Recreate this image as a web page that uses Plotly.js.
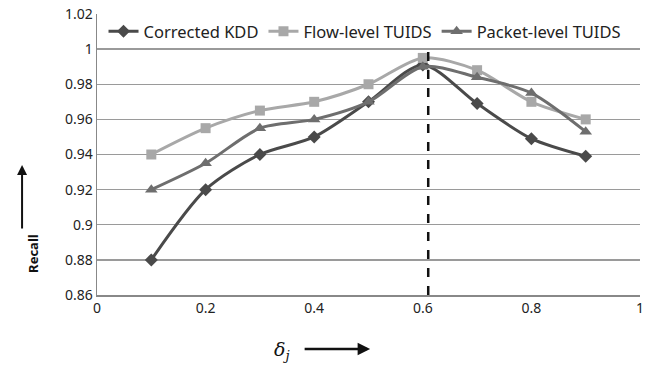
<!DOCTYPE html>
<html><head><meta charset="utf-8">
<script src="https://cdn.plot.ly/plotly-3.0.1.min.js"></script>
<style>body{margin:0;background:#fff}#c{width:649px;height:366px}</style>
</head><body><div id="c"></div>
<script>
const xVals = [0.1, 0.2, 0.3, 0.4, 0.5, 0.6, 0.7, 0.8, 0.9];
const correctedKDD = [0.88, 0.92, 0.94, 0.95, 0.97, 0.991, 0.969, 0.949, 0.939];
const flowTUIDS = [0.94, 0.955, 0.965, 0.97, 0.98, 0.995, 0.988, 0.97, 0.96];
const packetTUIDS = [0.92, 0.935, 0.955, 0.96, 0.97, 0.99, 0.984, 0.975, 0.953];
const seriesNames = ['Corrected KDD', 'Flow-level TUIDS', 'Packet-level TUIDS'];
const threshold = 0.61;
const yTicks = [0.86, 0.88, 0.9, 0.92, 0.94, 0.96, 0.98, 1, 1.02];
const yTickText = ['0.86', '0.88', '0.9', '0.92', '0.94', '0.96', '0.98', '1', '1.02'];
const xTicks = [0, 0.2, 0.4, 0.6, 0.8, 1];
const xTickText = ['0', '0.2', '0.4', '0.6', '0.8', '1'];

const F = 'Noto Sans, Open Sans, sans-serif';
function tr(y, name, color, sym, size) {
  return {x: xVals, y: y, name: name, type: 'scatter', mode: 'lines+markers',
    line: {color: color, width: 3, shape: 'spline', smoothing: 0.8},
    marker: {symbol: sym, size: size, color: color}};
}
const data = [
  tr(correctedKDD, seriesNames[0], '#4a4a4a', 'diamond', 10),
  tr(flowTUIDS, seriesNames[1], '#a8a8a8', 'square', 10),
  tr(packetTUIDS, seriesNames[2], '#6e6e6e', 'triangle-up', 11)
];
const layout = {
  width: 649, height: 366,
  margin: {l: 97, r: 9, t: 14, b: 71},
  paper_bgcolor: '#fff', plot_bgcolor: '#fff',
  font: {family: F, size: 14, color: '#222'},
  showlegend: true,
  legend: {orientation: 'h', x: 0.012, xanchor: 'left', y: 1.0, yanchor: 'top',
    bgcolor: 'rgba(255,255,255,0)', font: {family: F, size: 16.5, color: '#222'}, traceorder: 'normal'},
  xaxis: {range: [0, 1], tickvals: xTicks, ticktext: xTickText, showgrid: false,
    zeroline: false, showline: true, linecolor: '#888', linewidth: 1.5, ticks: '',
    tickfont: {family: F, size: 14, color: '#222'}},
  yaxis: {range: [0.86, 1.02], tickvals: yTicks, ticktext: yTickText, showgrid: true,
    gridcolor: '#9a9a9a', gridwidth: 1.3, zeroline: false, showline: true, linecolor: '#888',
    linewidth: 1.5, ticks: '', tickfont: {family: F, size: 14, color: '#222'}},
  shapes: [{type: 'line', xref: 'x', yref: 'y', x0: threshold, x1: threshold, y0: 0.86, y1: 1.0,
    line: {color: '#111', width: 2.5, dash: 'dash'}}],
  annotations: [
    {xref: 'paper', yref: 'paper', x: -0.138, y: 0.07, textangle: -90, showarrow: false,
     text: '<b>Recall</b>', font: {family: F, size: 13, color: '#111'}},
    {xref: 'paper', yref: 'paper', x: -0.138, y: 0.463, showarrow: true, text: '',
     ax: 0, ay: 65, arrowhead: 2, arrowsize: 1, arrowwidth: 2, arrowcolor: '#111'},
    {xref: 'paper', yref: 'paper', x: 0.341, y: -0.196, yanchor: 'middle', showarrow: false,
     text: '<i>δ<sub>j</sub></i>', font: {family: 'DejaVu Serif, serif', size: 19, color: '#111'}},
    {xref: 'paper', yref: 'paper', x: 0.503, y: -0.192, showarrow: true, text: '',
     ax: -67, ay: 0, arrowhead: 2, arrowsize: 1, arrowwidth: 2.5, arrowcolor: '#111'}
  ]
};
Plotly.newPlot('c', data, layout, {displayModeBar: false, staticPlot: true});
</script></body></html>
